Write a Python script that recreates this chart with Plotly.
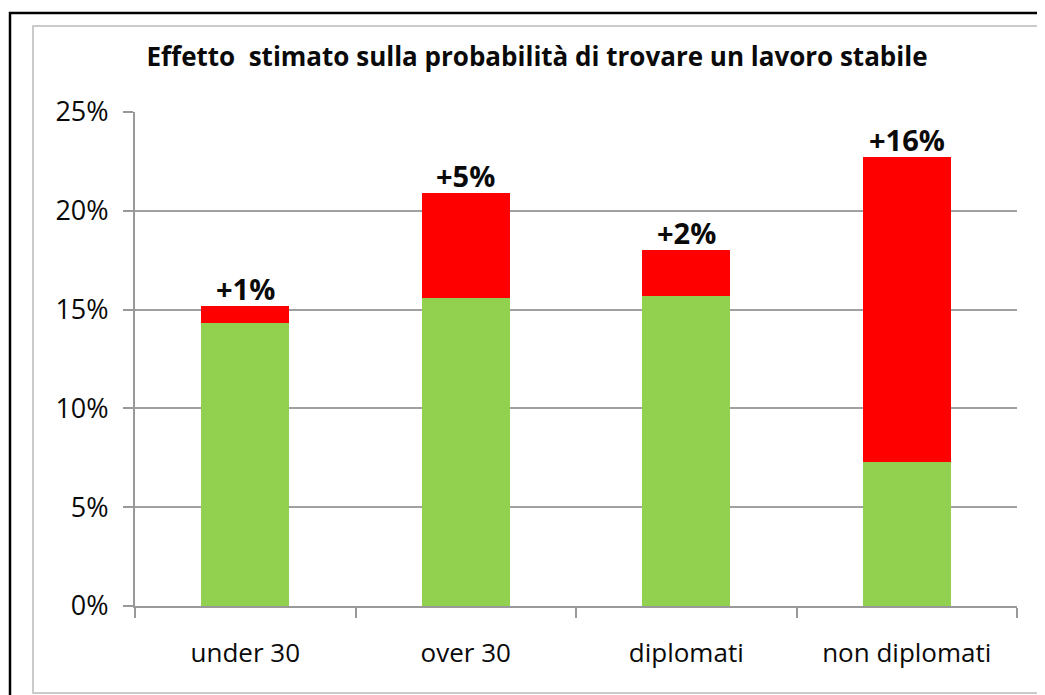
import plotly.graph_objects as go

categories = ["under 30", "over 30", "diplomati", "non diplomati"]
base = [14.3, 15.6, 15.7, 7.3]      # green part (%)
effect = [0.9, 5.3, 2.3, 15.4]      # red part (%)
labels = ["+1%", "+5%", "+2%", "+16%"]
yticks = [0, 5, 10, 15, 20, 25]

FONT = "Open Sans"
# plot area in page pixels (the page body adds an 8px margin)
PL, PR, PT, PB = 135, 1017, 112, 606
W, H = PR - PL, PB - PT


def px(x):
    return (x - PL) / W


def py(y):
    return (PB - y) / H


fig = go.Figure()
fig.add_trace(go.Bar(x=categories, y=base, marker=dict(color="#92D050", line=dict(width=0)),
                     width=0.4, showlegend=False, hoverinfo="skip"))
fig.add_trace(go.Bar(x=categories, y=effect, marker=dict(color="#FF0000", line=dict(width=0)),
                     width=0.4, showlegend=False, hoverinfo="skip"))

for c, b, e, t in zip(categories, base, effect, labels):
    fig.add_annotation(x=c, y=b + e, text="<b>%s</b>" % t, showarrow=False,
                       yanchor="bottom", yshift=-4,
                       font=dict(family=FONT, size=29, color="#0a0a0a"))

# outer black frame and inner gray chart box
fig.add_shape(type="rect", xref="paper", yref="paper", layer="below",
              x0=px(10), x1=px(1070), y0=py(720), y1=py(13),
              line=dict(color="black", width=2.5))
fig.add_shape(type="rect", xref="paper", yref="paper", layer="below",
              x0=px(33), x1=px(1040), y0=py(693), y1=py(26),
              line=dict(color="#BBBBBB", width=1.5))

fig.update_layout(
    width=1045, height=695,
    margin=dict(l=PL - 8, r=1045 + 8 - PR, t=PT - 8, b=695 + 8 - PB),
    paper_bgcolor="white", plot_bgcolor="white",
    barmode="stack", bargap=0.6,
    title=dict(text="<b>Effetto  stimato sulla probabilità di trovare un lavoro stabile</b>",
               x=px(537), xanchor="center", xref="paper",
               y=1 - (57 - 8) / 695, yanchor="middle",
               font=dict(family=FONT, size=26, color="#0a0a0a")),
    xaxis=dict(showline=True, linecolor="#999999", linewidth=2,
               ticks="outside", ticklen=10, tickcolor="#999999", tickwidth=2,
               tickson="boundaries", showgrid=False, ticklabelstandoff=23,
               tickfont=dict(family=FONT, size=26, color="#0a0a0a")),
    yaxis=dict(range=[0, 25], tickvals=yticks, ticktext=["%d%%" % v for v in yticks],
               showline=True, linecolor="#999999", linewidth=2,
               ticks="outside", ticklen=10, tickcolor="#999999", tickwidth=2,
               showgrid=True, gridcolor="#A0A0A0", gridwidth=1.5, zeroline=False,
               ticklabelstandoff=9,
               tickfont=dict(family=FONT, size=27, color="#0a0a0a")),
)

fig.write_html("out.html")
